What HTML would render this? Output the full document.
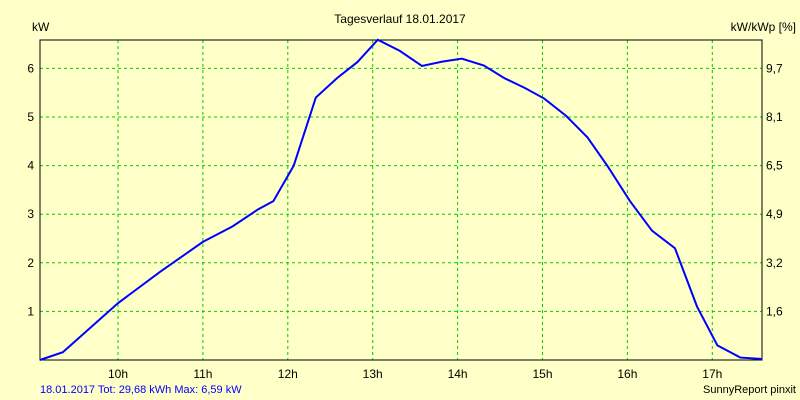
<!DOCTYPE html>
<html><head><meta charset="utf-8"><style>
body{margin:0;background:#ffffc8;}
svg{display:block;font-family:"Liberation Sans",sans-serif;}
</style></head><body>
<svg width="800" height="400">
<rect width="800" height="400" fill="#ffffc8"/>
<g id="g"></g>
</svg>
<script>
const times=[9.08,9.35,10.0,10.5,11.0,11.35,11.65,11.83,12.07,12.33,12.58,12.82,13.06,13.32,13.58,13.82,14.05,14.31,14.55,14.79,15.02,15.28,15.53,15.77,16.03,16.29,16.56,16.82,17.06,17.33,17.59];
const kw=[0.0,0.16,1.17,1.82,2.43,2.75,3.1,3.27,4.0,5.4,5.8,6.13,6.59,6.36,6.05,6.14,6.2,6.06,5.8,5.6,5.38,5.02,4.58,3.98,3.27,2.66,2.3,1.1,0.3,0.05,0.02];
const xTicks=[10,11,12,13,14,15,16,17];
const yTicks=[1,2,3,4,5,6];
const yRightLabels=["1,6","3,2","4,9","6,5","8,1","9,7"];
const X=h=>118+(h-10)*84.9;
const Y=v=>360-v*48.6;
const L=40,R=762,T=40,B=360;
const g=document.getElementById('g');
const ns='http://www.w3.org/2000/svg';
function mk(t,a,txt){const e=document.createElementNS(ns,t);for(const k in a)e.setAttribute(k,a[k]);if(txt!==undefined)e.textContent=txt;g.appendChild(e);return e;}
xTicks.forEach(h=>{
 const l=mk('line',{x1:X(h),x2:X(h),y1:T,y2:B,stroke:'#00cc00','stroke-dasharray':'3,3'});
 
 
 const t=mk('text',{x:X(h),y:378,'font-size':12,'text-anchor':'middle'},h+'h');
 
 
});
yTicks.forEach((v,i)=>{
 const l=mk('line',{x1:L,x2:R,y1:Y(v),y2:Y(v),stroke:'#00cc00','stroke-dasharray':'3,3'});
 
 
 const t=mk('text',{x:34,y:Y(v)+4,'font-size':12,'text-anchor':'end'},v);
 
 
 const t2=mk('text',{x:766,y:Y(v)+4,'font-size':12},yRightLabels[i]);
 
 
});
const fr=mk('rect',{x:L,y:T,width:R-L,height:B-T,fill:'none',stroke:'#000'});


const p=mk('polyline',{points:times.map((h,i)=>X(h)+','+Y(kw[i])).join(' '),fill:'none',stroke:'#0000ff','stroke-width':2});


const texts=[[400,23,'Tagesverlauf 18.01.2017','middle',12,'#000','chart-title'],[32,31,'kW','start',12,'#000','y-axis-title'],[796,31,'kW/kWp [%]','end',12,'#000','y-right-axis-title'],[40,393,'18.01.2017 Tot: 29,68 kWh Max: 6,59 kW','start',11,'#0000ff','summary-text'],[796,393,'SunnyReport pinxit','end',11,'#000','credit-text']];
texts.forEach(a=>{const t=mk('text',{x:a[0],y:a[1],'text-anchor':a[3],'font-size':a[4],fill:a[5]},a[2]);
 
 });
</script>
</body></html>
